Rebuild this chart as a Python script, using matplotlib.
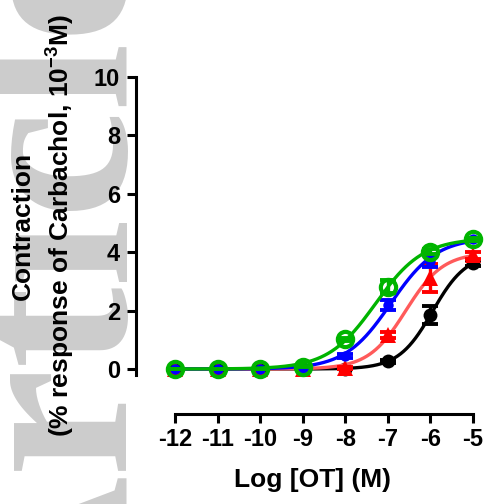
import numpy as np
import matplotlib
matplotlib.use("Agg")
import matplotlib.pyplot as plt

plt.rcParams["font.family"] = ["Liberation Sans", "DejaVu Sans"]
plt.rcParams["font.weight"] = "bold"
plt.rcParams["mathtext.fontset"] = "custom"
plt.rcParams["mathtext.rm"] = "Liberation Sans:bold"
plt.rcParams["mathtext.bf"] = "Liberation Sans:bold"
plt.rcParams["mathtext.it"] = "Liberation Sans:bold"

# log molar concentration of oxytocin
log_ot = np.array([-12, -11, -10, -9, -8, -7, -6, -5], dtype=float)
x_ticks = [-12, -11, -10, -9, -8, -7, -6, -5]
y_ticks = [0, 2, 4, 6, 8, 10]

# mean contraction and SEM for each group
black_mean = [0.0, 0.0, 0.0, 0.0, 0.0, 0.27, 1.85, 3.62]
black_sem = [0.0, 0.0, 0.0, 0.0, 0.0, 0.05, 0.30, 0.10]
red_mean = [0.0, 0.0, 0.0, 0.0, 0.03, 1.16, 3.12, 3.90]
red_sem = [0.0, 0.0, 0.0, 0.0, 0.03, 0.10, 0.48, 0.12]
blue_mean = [0.0, 0.0, 0.0, 0.05, 0.45, 2.20, 3.70, 4.45]
blue_sem = [0.0, 0.0, 0.0, 0.02, 0.08, 0.17, 0.20, 0.05]
green_mean = [0.0, 0.0, 0.0, 0.08, 1.02, 2.82, 4.02, 4.45]
green_sem = [0.0, 0.0, 0.0, 0.02, 0.05, 0.22, 0.08, 0.05]


def fit_hill(x, y):
    """Least-squares fit of a bottom=0 Hill curve (top, logEC50, slope)."""
    y = np.asarray(y, dtype=float)
    ec = np.linspace(-9.5, -4.0, 551)
    hs = np.linspace(0.4, 2.5, 211)
    E, H = np.meshgrid(ec, hs, indexing="ij")
    f = 1.0 / (1.0 + 10.0 ** ((E[..., None] - x) * H[..., None]))
    top = (f * y).sum(-1) / (f * f).sum(-1)
    top = np.clip(top, 0.0, 6.0)
    res = ((top[..., None] * f - y) ** 2).sum(-1)
    i, j = np.unravel_index(np.argmin(res), res.shape)
    return top[i, j], E[i, j], H[i, j]


fig = plt.figure(figsize=(4.88, 5.04), dpi=100)

# faint journal watermark behind the graph
fig.text(125 / 488, -0.29, "Article", rotation=90, rotation_mode="anchor",
         ha="left", va="baseline", fontsize=176, family="Liberation Serif",
         weight="bold", color="#cccccc", zorder=-5)

ax = fig.add_axes([136 / 488, 129 / 504, 352 / 488, 298 / 504])
ax.set_facecolor("none")

xs = (473 - 175) / 7.0
ax.set_xlim(-12 - 39 / xs, -5 + 15 / xs)
ax.set_ylim(-0.205, 10)

groups = [
    (black_mean, black_sem, "black", "black", "o", 10.0, dict(mfc="black", mec="black", mew=0)),
    (red_mean, red_sem, "#ff0000", "#ff5a5a", "^", 12.0, dict(mfc="#ff0000", mec="#ff0000", mew=0)),
    (blue_mean, blue_sem, "#0000ff", "#0000ff", "o", 7.5, dict(mfc="#0000ff", mec="#0000ff", mew=0)),
    (green_mean, green_sem, "#00b400", "#00b400", "o", 11.0, dict(mfc="none", mec="#00b400", mew=3.0)),
]

xfine = np.linspace(-12, -5, 400)
for k, (mean, sem, mcol, lcol, mk, ms, mkw) in enumerate(groups):
    z = 3 + k
    top, ec50, hill = fit_hill(log_ot, mean)
    curve = top / (1.0 + 10.0 ** ((ec50 - xfine) * hill))
    ax.plot(xfine, curve, color=lcol, lw=2.4, zorder=z, clip_on=False)
    ax.errorbar(log_ot, mean, yerr=sem, fmt="none", ecolor=mcol, elinewidth=2.4,
                capsize=6, capthick=2.8, zorder=z, clip_on=False)
    ax.plot(log_ot, mean, ls="none", marker=mk, ms=ms, zorder=z + 0.5,
            clip_on=False, **mkw)

for s in ("top", "right"):
    ax.spines[s].set_visible(False)
ax.spines["left"].set_linewidth(2.2)
ax.spines["bottom"].set_linewidth(2.2)
ax.spines["bottom"].set_position(("outward", 28))
ax.spines["bottom"].set_bounds(-12, -5)
ax.spines["left"].set_bounds(-0.205, 10)

ax.set_xticks(x_ticks)
ax.set_xticklabels([f"{t:d}" for t in x_ticks])
ax.set_yticks(y_ticks)
ax.tick_params(axis="both", width=2.2, length=6.5, labelsize=17)
ax.tick_params(axis="y", pad=5)
ax.tick_params(axis="x", pad=4)
for lab in ax.get_xticklabels() + ax.get_yticklabels():
    lab.set_fontweight("bold")

ax.set_xlabel("Log [OT] (M)", fontsize=19, fontweight="bold", labelpad=12)
ax.set_ylabel("Contraction\n(% response of Carbachol, 10$^{-3}$M)",
              fontsize=19, fontweight="bold", linespacing=1.42,
              multialignment="center")
ax.yaxis.label.set_va("center")
ax.yaxis.set_label_coords((44 - 136) / 352, 0.5)

fig.savefig("out.png", dpi=100)
